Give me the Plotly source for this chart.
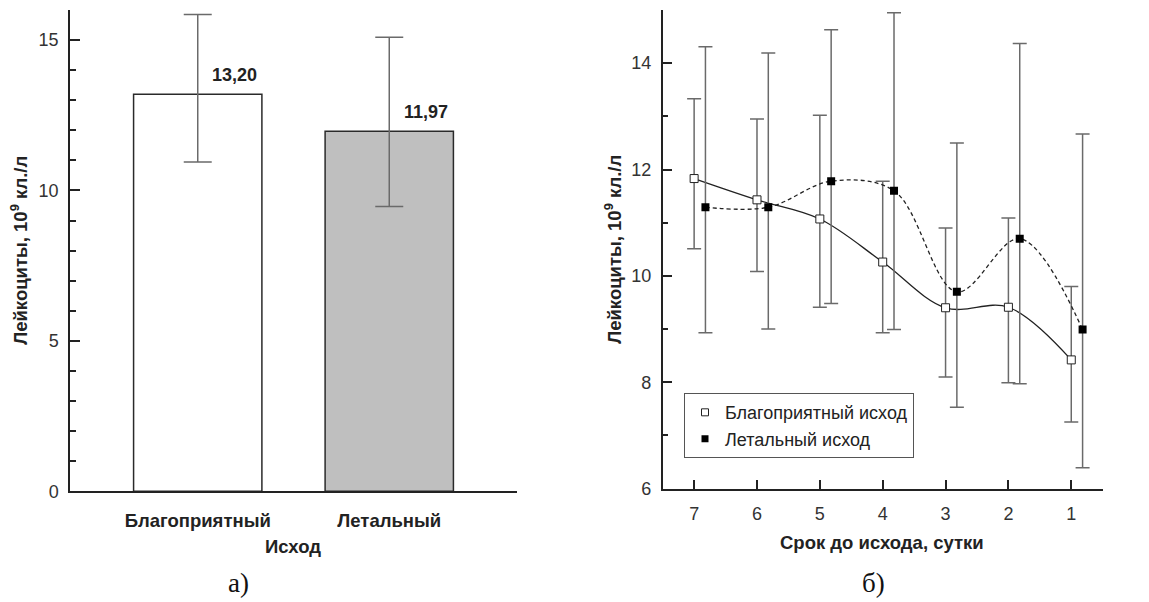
import plotly.graph_objects as go

# ---- panel (а): mean leukocytes by outcome ----
outcomes = ["Благоприятный", "Летальный"]
outcome_mean = [13.20, 11.97]
outcome_upper = [15.85, 15.09]
outcome_lower = [10.95, 9.47]

# ---- panel (б): dynamics before the outcome ----
days = [7, 6, 5, 4, 3, 2, 1]
fav_mean = [11.83, 11.43, 11.07, 10.26, 9.40, 9.41, 8.42]
fav_upper = [13.33, 12.95, 13.02, 11.78, 10.90, 11.09, 9.80]
fav_lower = [10.51, 10.08, 9.41, 8.93, 8.10, 7.99, 7.25]
let_mean = [11.29, 11.29, 11.78, 11.60, 9.70, 10.70, 8.99]
let_upper = [14.31, 14.19, 14.63, 14.95, 12.50, 14.37, 12.67]
let_lower = [8.93, 9.00, 9.48, 8.99, 7.53, 7.97, 6.39]

W, H = 1149, 602
VS = 1.016  # vertical layout scale
FONT = "Liberation Sans, Arial, sans-serif"
INK = "#222222"
ERR = "#6a6a6a"


def px_x(p):
    return p / W


def px_y(p):
    return (H - p * VS) / H


def up(vals, means):
    return [round(v - m, 3) for v, m in zip(vals, means)]


def down(vals, means):
    return [round(m - v, 3) for v, m in zip(vals, means)]


fig = go.Figure()

fig.add_trace(go.Bar(
    x=outcomes, y=outcome_mean, width=0.67,
    marker=dict(color=["#ffffff", "#bfbfbf"], line=dict(color="#2a2a2a", width=1.5)),
    error_y=dict(type="data", symmetric=False,
                 array=up(outcome_upper, outcome_mean),
                 arrayminus=down(outcome_lower, outcome_mean),
                 color=ERR, thickness=1.5, width=14),
    showlegend=False, xaxis="x", yaxis="y",
))

for i, v in enumerate(outcome_mean):
    fig.add_annotation(
        x=i + 0.19, y=v, xref="x", yref="y", text=f"<b>{v:.2f}</b>".replace(".", ","),
        showarrow=False, xanchor="center", yanchor="bottom", yshift=7,
        font=dict(family=FONT, size=18, color=INK),
    )

# favourable outcome: solid smoothed line, open squares
fig.add_trace(go.Scatter(
    x=days, y=fav_mean, mode="lines+markers",
    line=dict(color=INK, width=1.3, shape="spline"),
    marker=dict(symbol="square", size=8, color="#ffffff", line=dict(color=INK, width=1)),
    error_y=dict(type="data", symmetric=False,
                 array=up(fav_upper, fav_mean), arrayminus=down(fav_lower, fav_mean),
                 color=ERR, thickness=1.5, width=7),
    showlegend=False, xaxis="x2", yaxis="y2",
))

# lethal outcome: dashed smoothed line, filled squares, slightly shifted
fig.add_trace(go.Scatter(
    x=[d - 0.18 for d in days], y=let_mean, mode="lines+markers",
    line=dict(color=INK, width=1.3, shape="spline", dash="4px,3px"),
    marker=dict(symbol="square", size=8, color="#000000"),
    error_y=dict(type="data", symmetric=False,
                 array=up(let_upper, let_mean), arrayminus=down(let_lower, let_mean),
                 color=ERR, thickness=1.5, width=7),
    showlegend=False, xaxis="x2", yaxis="y2",
))

# legend entries (markers only)
fig.add_trace(go.Scatter(
    x=[None], y=[None], mode="markers", name="Благоприятный исход",
    marker=dict(symbol="square", size=7, color="#ffffff", line=dict(color=INK, width=1)),
    xaxis="x2", yaxis="y2",
))
fig.add_trace(go.Scatter(
    x=[None], y=[None], mode="markers", name="Летальный исход",
    marker=dict(symbol="square", size=7, color="#000000"),
    xaxis="x2", yaxis="y2",
))

axis_common = dict(
    showline=True, linecolor=INK, linewidth=1.5, showgrid=False, zeroline=False,
    tickcolor=INK, tickwidth=1.5, mirror=False,
    tickfont=dict(family=FONT, size=18, color="#333333"),
)

fig.update_layout(
    width=W, height=H,
    margin=dict(l=0, r=0, t=0, b=0),
    paper_bgcolor="white", plot_bgcolor="white",
    font=dict(family=FONT, color=INK),
    xaxis=dict(
        **{**axis_common, "tickfont": dict(family=FONT, size=18.5, color=INK, weight="bold")},
        domain=[px_x(70), px_x(517)], range=[-0.667, 1.667], ticks="",
        ticklabelstandoff=12, anchor="y",
    ),
    yaxis=dict(
        **axis_common, domain=[px_y(491.7), px_y(10)], range=[0, 16],
        tickvals=[0, 5, 10, 15], ticks="inside", ticklen=10, ticklabelstandoff=6,
        minor=dict(dtick=1, ticks="inside", ticklen=6, tickcolor=INK, tickwidth=1.5),
        anchor="x",
    ),
    xaxis2=dict(
        **axis_common, domain=[px_x(662.7), px_x(1102.7)], range=[7.5, 0.5],
        tickvals=days, ticks="inside", ticklen=9, ticklabelstandoff=8, anchor="y2",
    ),
    yaxis2=dict(
        **axis_common, domain=[px_y(489), px_y(10)], range=[6, 15],
        tickvals=[6, 8, 10, 12, 14], ticks="inside", ticklen=10, ticklabelstandoff=6,
        minor=dict(dtick=1, ticks="inside", ticklen=6, tickcolor=INK, tickwidth=1.5),
        anchor="x2",
    ),
    legend=dict(
        x=px_x(684), y=px_y(426), xanchor="left", yanchor="middle",
        bordercolor="#555555", borderwidth=1, bgcolor="white",
        font=dict(family=FONT, size=18, color=INK),
        itemwidth=30, tracegroupgap=0,
    ),
)

title_font = dict(family=FONT, size=18.5, color=INK, weight="bold")
ylabel = "Лейкоциты, 10<sup>9</sup> кл./л"


def label(x, y, text, font, angle=0):
    fig.add_annotation(x=px_x(x), y=px_y(y), xref="paper", yref="paper", text=text,
                       textangle=angle, showarrow=False, xanchor="center",
                       yanchor="middle", font=font)


label(19, 251, ylabel, title_font, -90)
label(613, 250, ylabel, title_font, -90)
label(293, 547, "Исход", title_font)
label(882, 543, "Срок до исхода, сутки", title_font)

panel_font = dict(family="Liberation Serif, Times New Roman, serif", size=27, color="#111111")
label(238, 584, "а)", panel_font)
label(873, 584, "б)", panel_font)

fig.write_html("out.html")
